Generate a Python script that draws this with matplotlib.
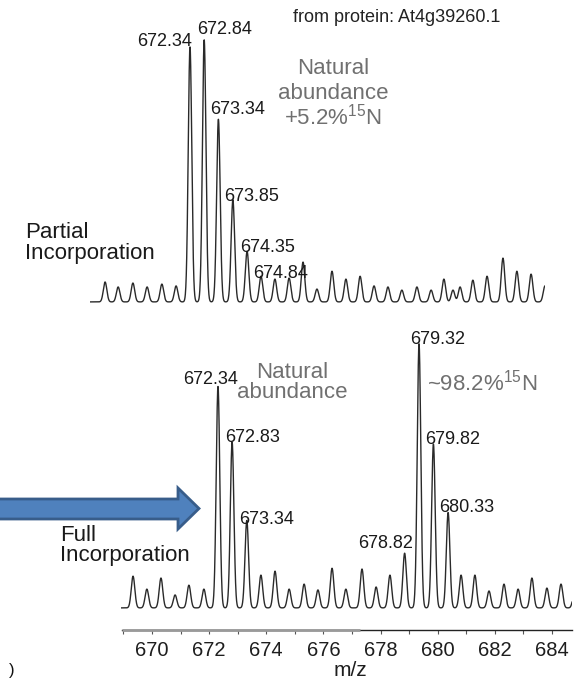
import matplotlib
matplotlib.use("Agg")
import matplotlib.pyplot as plt
import numpy as np
from matplotlib.patches import Polygon

plt.rcParams["font.family"] = ["Liberation Sans", "DejaVu Sans"]
plt.rcParams["mathtext.fontset"] = "custom"
plt.rcParams["mathtext.rm"] = "Liberation Sans"
plt.rcParams["mathtext.it"] = "Liberation Sans"

# --- top spectrum: partial incorporation (peak m/z, relative intensity %)
top_mz = [669.35, 669.81, 670.33, 670.83, 671.35, 671.85,
          672.34, 672.84, 673.34, 673.85, 674.35, 674.84,
          675.33, 675.83, 676.32, 676.81, 677.34, 677.83,
          678.33, 678.82, 679.31, 679.80, 680.33, 680.83,
          681.28, 681.60, 681.85, 682.30, 682.80, 683.36,
          683.85, 684.35, 684.84]
top_int = [7.6, 5.7, 7.2, 5.7, 6.8, 6.1,
           97.3, 100.0, 69.7, 39.0, 19.3, 9.8,
           8.7, 9.1, 15.2, 4.9, 11.7, 8.7,
           9.8, 6.1, 5.7, 4.5, 5.7, 4.5,
           8.7, 4.5, 5.7, 8.3, 9.8, 16.7,
           11.7, 10.6, 6.1]
top_labels = ["672.34", "672.84", "673.34", "673.85", "674.35", "674.84"]

# --- bottom spectrum: full incorporation
bot_mz = [669.39, 669.87, 670.36, 670.85, 671.33, 671.85,
          672.34, 672.83, 673.34, 673.83, 674.32, 674.81,
          675.33, 675.81, 676.30, 676.78, 677.34, 677.83,
          678.31, 678.82, 679.32, 679.82, 680.33, 680.78,
          681.26, 681.75, 682.27, 682.76, 683.24, 683.76,
          684.25, 684.72]
bot_int = [12.0, 7.1, 11.3, 4.9, 8.6, 7.1,
           83.8, 62.8, 33.1, 12.4, 13.9, 7.1,
           9.0, 6.8, 15.0, 7.1, 14.7, 7.9,
           12.4, 20.7, 100.0, 62.0, 36.1, 12.4,
           12.4, 6.4, 9.0, 7.1, 11.3, 7.5,
           9.0, 6.0]
bot_labels = ["672.34", "672.83", "673.34", "678.82", "679.32", "679.82", "680.33"]

axis_ticks = list(range(669, 685))
axis_labels = list(range(670, 685, 2))

W, H = 576, 679
fig = plt.figure(figsize=(W / 100, H / 100), dpi=100)
fig.patch.set_facecolor("white")


def px_rect(left, top, right, bottom):
    return [left / W, 1 - bottom / H, (right - left) / W, (bottom - top) / H]


def ptext(x, y, s, size, **kw):
    # y is the visual middle of the glyphs, in pixels from the top
    base = y + 0.36 * size * 100 / 72
    fig.text(x / W, 1 - base / H, s, fontsize=size, va="baseline", **kw)


def profile(ax, mz, inten, xlim, sigma=0.062):
    grid = np.linspace(xlim[0], xlim[1], 4000)
    y = np.zeros_like(grid)
    for m, a in zip(mz, inten):
        y += a * np.exp(-0.5 * ((grid - m) / sigma) ** 2)
    ax.plot(grid, y, color="#2a2a2a", lw=1.0)
    ax.set_xlim(*xlim)
    ax.axis("off")


# top panel: 672.34 at x=190 px, 28.4 px per m/z unit, baseline y=304, 100% = 264 px
ax_top = fig.add_axes(px_rect(90, 20, 545, 304))
top_xlim = (672.34 - 100 / 28.4, 672.34 + 355 / 28.4)
profile(ax_top, top_mz, top_int, top_xlim)
ax_top.set_ylim(-0.8, 100 * (304 - 20) / 264)

# bottom panel: 672.34 at x=218 px, 28.8 px per unit, baseline y=610, 100% = 266 px
ax_bot = fig.add_axes(px_rect(121, 300, 572, 610))
bot_xlim = (672.34 - 97 / 28.8, 672.34 + 354 / 28.8)
profile(ax_bot, bot_mz, bot_int, bot_xlim)
ax_bot.set_ylim(-0.8, 100 * (610 - 300) / 266)

# m/z scale bar
ax_s = fig.add_axes(px_rect(122, 620, 572, 630))
ax_s.set_xlim(670 + (122 - 152) / 28.57, 670 + (572 - 152) / 28.57)
ax_s.set_ylim(0, 1)
for side in ("top", "left", "right"):
    ax_s.spines[side].set_visible(False)
ax_s.spines["bottom"].set_color("#222222")
ax_s.spines["bottom"].set_linewidth(1.0)
ax_s.plot([ax_s.get_xlim()[0], 677.28], [0, 0], color="#9a9a9a", lw=2.0,
          clip_on=False, zorder=5, solid_capstyle="butt")
ax_s.set_yticks([])
ax_s.set_xticks(axis_ticks)
ax_s.set_xticklabels([str(t) if t in axis_labels else "" for t in axis_ticks])
ax_s.tick_params(axis="x", direction="out", length=3, width=0.8, color="#555555",
                 labelsize=14.5, labelcolor="#1e1e1e", pad=5)
ax_s.patch.set_alpha(0)

ptext(350, 668, "m/z", 15, ha="center", color="#1e1e1e")

# top annotations
ptext(293, 16, "from protein: At4g39260.1", 13, ha="left", color="#222222")
top_lab_pos = [(192, 39, "right"), (197, 28, "left"), (210, 108, "left"),
               (224, 194, "left"), (240, 245, "left"), (253, 272, "left")]
for lab, (x, y, ha) in zip(top_labels, top_lab_pos):
    ptext(x, y, lab, 13, ha=ha, color="#1a1a1a")
gray = "#707070"
ptext(333, 66, "Natural", 16, ha="center", color=gray)
ptext(333, 91, "abundance", 16, ha="center", color=gray)
ptext(333, 117, r"+5.2%$^{15}$N", 16, ha="center", color=gray)
ptext(25, 230, "Partial", 16, ha="left", color="#1a1a1a")
ptext(25, 251, "Incorporation", 16, ha="left", color="#1a1a1a")

# bottom annotations
bot_lab_pos = [(183, 378), (225, 436), (239, 517), (358, 542),
               (410, 338), (425, 437), (439, 506)]
for lab, (x, y) in zip(bot_labels, bot_lab_pos):
    ptext(x, y, lab, 13, ha="left", color="#1a1a1a")
ptext(292, 370, "Natural", 16, ha="center", color=gray)
ptext(292, 390, "abundance", 16, ha="center", color=gray)
ptext(427, 383, r"~98.2%$^{15}$N", 16, ha="left", color=gray)
ptext(60, 533, "Full", 16, ha="left", color="#1a1a1a")
ptext(60, 553, "Incorporation", 16, ha="left", color="#1a1a1a")

# block arrow
arrow_px = [(-5, 499), (178, 499), (178, 488), (199, 508.5),
            (178, 529), (178, 519), (-5, 519)]
arrow = Polygon([(x / W, 1 - y / H) for x, y in arrow_px], closed=True,
                transform=fig.transFigure, facecolor="#4f81bd",
                edgecolor="#385d8a", lw=2.0, joinstyle="miter")
fig.add_artist(arrow)

fig.text(9 / W, 1 - 678 / H, ")", fontsize=12, va="bottom", ha="left", color="#111111")

fig.savefig("out.png", dpi=100, facecolor="white")
